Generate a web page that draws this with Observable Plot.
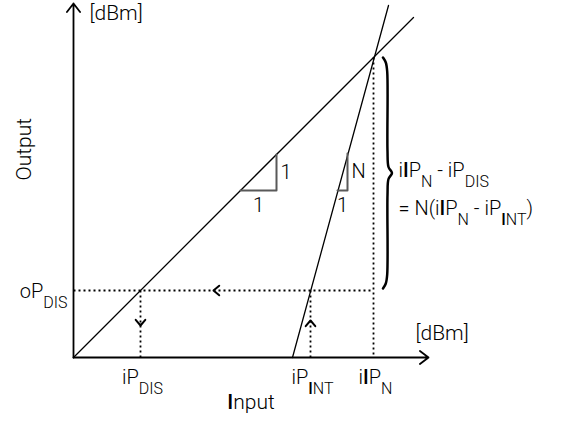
<!DOCTYPE html>
<html><head><meta charset="utf-8">
<script src="https://cdn.jsdelivr.net/npm/d3@7"></script>
<script src="https://cdn.jsdelivr.net/npm/@observablehq/plot@0.6"></script>
<style>body{margin:0;background:#fff} svg text{white-space:pre}</style>
</head><body><div id="chart"></div>
<script>
// ---- values (arbitrary dBm units, origin at axes crossing)
const iP_DIS = 6.7;          // input level where the 1:1 line reaches oP_DIS
const oP_DIS = 6.7;          // output level of the desensitisation point
const iP_INT = 23.7;         // input of the interferer at the same output level
const iIP_N = 30;            // intercept point (input = output)
const N = 3.7;               // slope of the N-th order product
const fundamental = [{x: 0, y: 0}, {x: 34, y: 34}];
const intermod = [{x: 21.9, y: 0}, {x: 31.5, y: 35.2}];
const xTicks = [
  {x: iP_DIS, label: "iP_{DIS}"},
  {x: iP_INT, label: "iP_{*I*NT}"},
  {x: iIP_N, label: "i*I*P_{N}"}
];
const yTicks = [{y: oP_DIS, label: "oP_{DIS}"}];
const triangles = [
  {id: "a", x: 16.7, y: 16.7, run: 3.6, rise: 3.6, runLabel: "1", riseLabel: "1"},
  {id: "b", x: 26.4, y: 16.7, run: 1.0, rise: N, runLabel: "1", riseLabel: "N"}
];
const formula = ["i*I*P_{N} - iP_{DIS}", "= N(i*I*P_{N} - iP_{*I*NT})"];
const unitLabel = "[dBm]";
const xTitle = "*I*nput";
const yTitle = "Output";
const xDomain = [0, 35.5];
const yDomain = [0, 35.4];

// ---- derived annotation geometry (from the values above)
const dotted = [
  {x1: 0, y1: oP_DIS, x2: iIP_N, y2: oP_DIS},
  {x1: iP_DIS, y1: oP_DIS, x2: iP_DIS, y2: 0},
  {x1: iP_INT, y1: 0, x2: iP_INT, y2: oP_DIS},
  {x1: iIP_N, y1: iIP_N, x2: iIP_N, y2: 0}
];
const flow = [
  {x: 14.0, y: oP_DIS, ux: -1, uy: 0},
  {x: iP_DIS, y: 3.2, ux: 0, uy: -1},
  {x: iP_INT, y: 3.7, ux: 0, uy: 1}
];
const axes = [
  {x1: 0, y1: 0, x2: xDomain[1], y2: 0},
  {x1: 0, y1: 0, x2: 0, y2: yDomain[1]}
];
const triPts = triangles.flatMap(t => [
  {id: t.id, x: t.x, y: t.y},
  {id: t.id, x: t.x + t.run, y: t.y},
  {id: t.id, x: t.x + t.run, y: t.y + t.rise}
]);
function bracePoints(x, yTop, yBot) {
  const m = (yTop + yBot) / 2;
  return [[0, yTop], [0.28, yTop - 0.5], [0.42, yTop - 1.4], [0.45, m + 2.2], [0.55, m + 0.6], [0.9, m],
          [0.55, m - 0.6], [0.45, m - 2.2], [0.42, yBot + 1.4], [0.28, yBot + 0.5], [0, yBot]]
    .map(([d, y]) => ({x: x + d, y}));
}
const brace = bracePoints(iIP_N + 0.95, iIP_N, oP_DIS + 0.2);
const braceMid = {x: iIP_N, y: (iIP_N + oP_DIS + 0.2) / 2};

const SUB_SIZE = 16, SUB_SHIFT = 10;
function richify(svg) {
  svg.querySelectorAll("text").forEach(t => {
    const s = t.textContent;
    if (!/[_*]/.test(s)) return;
    t.textContent = "";
    const parts = [];
    const re = /_\{([^}]*)\}/g;
    let last = 0, m;
    while ((m = re.exec(s))) {
      if (m.index > last) parts.push({s: s.slice(last, m.index), sub: false});
      parts.push({s: m[1], sub: true});
      last = re.lastIndex;
    }
    if (last < s.length) parts.push({s: s.slice(last), sub: false});
    let shift = 0;
    for (const p of parts) {
      p.s.split("*").forEach((chunk, k) => {
        if (!chunk) return;
        const ts = document.createElementNS("http://www.w3.org/2000/svg", "tspan");
        ts.textContent = chunk;
        const target = p.sub ? SUB_SHIFT : 0;
        if (target !== shift) { ts.setAttribute("dy", target - shift); shift = target; }
        if (p.sub) ts.setAttribute("font-size", SUB_SIZE);
        if (k % 2 === 1) ts.setAttribute("font-weight", "500");
        t.appendChild(ts);
      });
    }
  });
}

const plot = Plot.plot({
  width: 565,
  height: 421,
  marginLeft: 73,
  marginRight: 137,
  marginTop: 3,
  marginBottom: 64,
  style: {fontFamily: "Roboto, 'Liberation Sans', Arial, sans-serif", fontWeight: 300, fontSize: "20px", background: "white", color: "black"},
  x: {domain: xDomain, axis: null},
  y: {domain: yDomain, axis: null},
  marks: [
    Plot.link(dotted, {x1: "x1", y1: "y1", x2: "x2", y2: "y2", stroke: "black", strokeWidth: 1.8, strokeDasharray: "2,3"}),
    Plot.arrow(flow, {x1: d => d.x - d.ux * 3, y1: d => d.y - d.uy * 3, x2: "x", y2: "y",
      insetStart: 29, headLength: 5.6, headAngle: 80, stroke: "black", strokeWidth: 2}),
    Plot.line(fundamental, {x: "x", y: "y", stroke: "black", strokeWidth: 1.3}),
    Plot.line(intermod, {x: "x", y: "y", stroke: "black", strokeWidth: 1.3}),
    Plot.line(triPts, {x: "x", y: "y", z: "id", stroke: "#595959", strokeWidth: 2}),
    Plot.line(brace, {x: "x", y: "y", curve: "catmull-rom", stroke: "black", strokeWidth: 2.5}),
    Plot.arrow(axes, {x1: "x1", y1: "y1", x2: "x2", y2: "y2", stroke: "black", strokeWidth: 1.8, headLength: 9, headAngle: 75}),
    Plot.text(xTicks, {x: "x", y: () => 0, text: "label", dx: 2, dy: 26, lineAnchor: "bottom"}),
    Plot.text(yTicks, {x: () => 0, y: "y", text: "label", textAnchor: "end", dx: -6, dy: 7, lineAnchor: "bottom"}),
    Plot.text(triangles, {x: d => d.x + d.run / 2, y: "y", text: "runLabel", dy: 21, lineAnchor: "bottom"}),
    Plot.text(triangles, {x: d => d.x + d.run, y: d => d.y + d.rise / 2, text: "riseLabel", textAnchor: "start", dx: 4}),
    Plot.text([formula[0]], {x: () => braceMid.x, y: () => braceMid.y, text: d => d, textAnchor: "start", dx: 25, dy: 4, lineAnchor: "bottom"}),
    Plot.text([formula[1]], {x: () => braceMid.x, y: () => braceMid.y, text: d => d, textAnchor: "start", dx: 25, dy: 42, lineAnchor: "bottom"}),
    Plot.text([unitLabel], {frameAnchor: "top-left", text: d => d, textAnchor: "start", dx: 16, dy: 16, lineAnchor: "bottom", fontSize: 21}),
    Plot.text([unitLabel], {frameAnchor: "bottom-right", text: d => d, textAnchor: "start", dx: -13, dy: -18, lineAnchor: "bottom", fontSize: 21}),
    Plot.text([xTitle], {frameAnchor: "bottom", text: d => d, dy: 51, lineAnchor: "bottom", fontSize: 21}),
    Plot.text([yTitle], {frameAnchor: "left", text: d => d, rotate: -90, dx: -49, fontSize: 21})
  ]
});
richify(plot);
document.getElementById("chart").appendChild(plot);
</script>
</body></html>
